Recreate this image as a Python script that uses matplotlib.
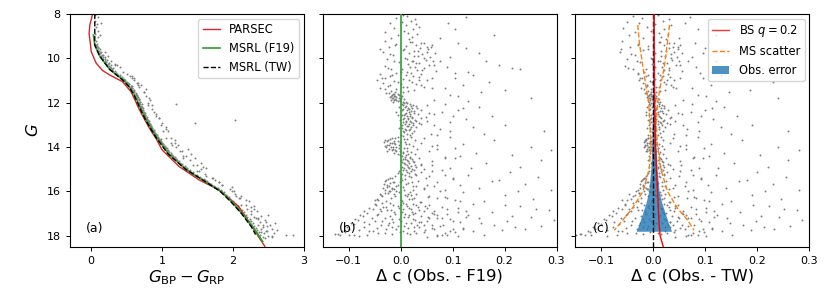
import numpy as np
import matplotlib
matplotlib.use('Agg')
import matplotlib.pyplot as plt
from matplotlib.patches import Patch

# ---------------- Panel (a): CMD ----------------
Ga1 = [8.05,8.15,8.30,8.45,8.60,8.75,8.90,9.05,9.20,9.35,8.40,8.95]
ca1 = [0.06,0.09,0.05,0.08,0.07,0.10,0.06,0.09,0.07,0.08,0.14,0.13]
Ga2 = [9.42,9.48,9.54,9.60,9.66,9.72,9.78,9.84,9.90,9.96,
       10.02,10.08,10.14,10.20,10.26,10.32,10.38,10.44,10.49,9.70,
       9.90,10.10,10.30,10.40,10.25]
ca2 = [0.07,0.10,0.09,0.13,0.10,0.14,0.12,0.16,0.14,0.19,
       0.17,0.22,0.20,0.25,0.24,0.28,0.27,0.31,0.30,0.20,
       0.24,0.28,0.36,0.40,0.33]
Ga3 = [10.52,10.58,10.64,10.70,10.76,10.82,10.88,10.94,11.00,11.06,
       11.12,11.18,11.24,11.30,11.36,11.42,11.48,11.54,11.60,11.66,
       11.72,11.78,11.84,11.90,11.96,10.70,10.80,10.90,11.00,11.10,
       11.20,11.30,11.50,11.70,11.90]
ca3 = [0.29,0.33,0.35,0.36,0.40,0.41,0.44,0.45,0.48,0.49,
       0.52,0.53,0.56,0.56,0.58,0.59,0.61,0.61,0.63,0.63,
       0.65,0.65,0.67,0.67,0.69,0.50,0.55,0.58,0.60,0.64,
       0.66,0.68,0.74,0.78,0.83]
Ga4 = [12.02,12.08,12.14,12.20,12.26,12.32,12.38,12.44,12.50,12.56,
       12.62,12.68,12.74,12.80,12.86,12.92,12.98,13.04,13.10,13.16,
       13.22,13.28,13.34,13.40,13.46,12.10,12.30,12.50,12.70,12.90,
       13.10,13.30,12.05,12.90,12.77]
ca4 = [0.67,0.69,0.68,0.71,0.70,0.72,0.72,0.74,0.74,0.76,
       0.76,0.78,0.78,0.80,0.80,0.82,0.83,0.84,0.85,0.86,
       0.87,0.88,0.89,0.91,0.91,0.80,0.86,0.92,0.95,1.00,
       1.05,1.08,1.19,1.47,2.03]
Ga5 = [13.52,13.58,13.64,13.70,13.76,13.82,13.88,13.94,14.00,14.06,
       14.12,14.18,14.24,14.30,14.36,14.42,14.48,14.54,14.60,14.66,
       14.72,14.78,14.84,14.90,14.96,13.60,13.80,14.00,14.20,14.40,
       14.60,14.80,13.70,14.10,14.50,14.90,13.90,14.30,14.70,14.95]
ca5 = [0.92,0.94,0.95,0.97,0.98,1.00,1.01,1.03,1.04,1.06,
       1.07,1.09,1.10,1.12,1.13,1.15,1.17,1.19,1.21,1.23,
       1.25,1.28,1.30,1.32,1.35,1.06,1.12,1.20,1.28,1.34,
       1.40,1.50,1.18,1.36,1.46,1.58,1.22,1.41,1.55,1.62]
Ga6 = [15.02,15.08,15.14,15.20,15.26,15.32,15.38,15.44,15.50,15.56,
       15.62,15.68,15.74,15.80,15.86,15.92,15.98,16.04,16.10,16.16,
       16.22,16.28,16.34,16.40,16.46,15.10,15.30,15.50,15.70,15.90,
       16.10,16.30,15.20,15.60,16.00,16.40,15.40,15.80,16.20,16.45]
ca6 = [1.36,1.38,1.41,1.44,1.47,1.50,1.53,1.56,1.60,1.63,
       1.66,1.68,1.72,1.74,1.78,1.80,1.83,1.85,1.88,1.89,
       1.91,1.93,1.95,1.97,1.99,1.50,1.62,1.74,1.85,1.96,
       2.03,2.10,1.60,1.80,2.02,2.18,1.72,1.98,2.12,2.22]
Ga7 = [16.52,16.58,16.64,16.70,16.76,16.82,16.88,16.94,17.00,17.06,
       17.12,17.18,17.24,17.30,17.36,17.42,17.48,17.54,17.60,17.66,
       17.72,17.78,17.84,17.90,17.96,18.02,18.08,18.14,16.60,16.80,
       17.00,17.20,17.40,17.60,17.80,18.00,16.70,16.90,17.10,17.30,
       17.50,17.70,17.90,18.10,16.65,17.05,17.45,17.85,18.05,17.95,
       17.98,17.25,17.15,17.55,17.75]
ca7 = [2.00,2.03,2.04,2.06,2.07,2.09,2.10,2.12,2.14,2.15,
       2.16,2.18,2.19,2.20,2.22,2.23,2.25,2.26,2.27,2.29,
       2.30,2.31,2.33,2.34,2.35,2.36,2.37,2.38,2.12,2.20,
       2.26,2.32,2.38,2.42,2.46,2.50,2.25,2.34,2.40,2.45,
       2.52,2.55,2.58,2.45,2.30,2.50,2.60,2.40,2.55,2.75,
       2.85,2.36,2.30,2.48,2.62]
Ga8 = [9.45,9.55,9.65,9.75,9.85,9.95,10.05,10.15,10.25,10.35,
       10.45,10.55,10.65,10.75,10.85,10.95,11.05,11.15,11.25,11.35,
       11.45,11.55,11.65,11.75,11.85,11.95,12.05,12.15,12.25,12.35,
       12.45,12.55,12.65,12.75,12.85,12.95,13.05,13.15,13.25,13.35,
       13.45,13.55,13.65,13.75,13.85,13.95,14.05,14.15,14.25,14.35,
       14.45,14.55,14.65,14.75,14.85,14.95,15.05,15.15,15.25,15.35,
       15.45,15.55,15.65,15.75,15.85,15.95,16.05,16.15,16.25,16.35,
       16.45,16.55,16.65,16.75,16.85,16.95,17.05,17.15,17.25,17.35,
       17.45,17.55,17.65,17.75,17.85,17.95,18.05,17.50,17.70,17.90]
ca8 = [0.08,0.09,0.11,0.12,0.15,0.16,0.19,0.21,0.24,0.25,
       0.28,0.31,0.35,0.38,0.43,0.46,0.50,0.53,0.57,0.58,
       0.61,0.63,0.65,0.66,0.68,0.69,0.71,0.70,0.73,0.73,
       0.76,0.76,0.79,0.79,0.82,0.83,0.85,0.86,0.89,0.90,
       0.93,0.94,0.98,0.99,1.02,1.04,1.07,1.09,1.12,1.14,
       1.18,1.20,1.24,1.27,1.32,1.34,1.39,1.43,1.49,1.53,
       1.59,1.63,1.69,1.73,1.79,1.83,1.88,1.90,1.94,1.96,
       2.00,2.03,2.07,2.09,2.13,2.15,2.18,2.20,2.24,2.25,
       2.29,2.30,2.33,2.34,2.37,2.38,2.42,2.35,2.40,2.44]
Ga9 = [10.3,10.6,10.9,11.2,11.5,11.8,12.1,12.4,12.7,13.0,
       13.3,13.6,13.9,14.2,14.5,14.8,15.1,15.4,15.7,16.0,
       16.3,16.6,16.9,17.2,17.5,17.8,10.8,11.4,12.0,12.6,
       13.2,13.8,14.4,15.0,15.6,16.2,16.8,17.4,18.0,11.1]
ca9 = [0.34,0.45,0.60,0.70,0.74,0.82,0.86,0.88,0.96,0.98,
       1.02,1.12,1.14,1.26,1.30,1.44,1.52,1.70,1.84,1.98,
       2.08,2.18,2.26,2.36,2.42,2.48,0.58,0.78,0.80,0.92,
       1.06,1.18,1.30,1.55,1.80,2.04,2.30,2.46,2.55,0.66]

parsec_G = [8.0,8.5,8.9,9.4,9.7,10.22,10.55,10.75,11.05,11.5,11.9,12.32,12.8,13.2,13.65,14.13,14.88,15.48,15.93,16.68,17.58,18.48]
parsec_c = [0.02,-0.02,-0.03,-0.01,0.0,0.07,0.16,0.26,0.44,0.56,0.62,0.68,0.76,0.83,0.92,1.0,1.24,1.52,1.80,2.08,2.27,2.45]
f19_G = [8.95,9.4,9.9,10.5,11.0,11.3,11.7,12.2,12.8,13.5,14.3,15.0,15.5,16.0,16.5,17.0,17.6,18.26]
f19_c = [0.03,0.05,0.12,0.26,0.46,0.54,0.62,0.69,0.78,0.91,1.09,1.33,1.58,1.83,1.99,2.13,2.28,2.42]
tw_G = [8.0,8.5,9.0,9.4,9.9,10.5,11.0,11.3,11.7,12.2,12.8,13.5,14.3,15.0,15.5,16.0,16.5,17.0,17.6,17.95]
tw_c = [0.05,0.05,0.05,0.05,0.12,0.26,0.45,0.54,0.61,0.68,0.77,0.90,1.08,1.33,1.58,1.82,1.98,2.12,2.26,2.32]

# ---------------- Panels (b),(c): colour residuals (same stars) ----------------
G1 = [8.05,8.10,8.18,8.22,8.30,8.35,8.41,8.47,8.52,8.58,8.63,8.70,8.75,8.80,8.86,8.92,8.97,9.02,9.08,9.15,
      8.12,8.40,8.66,8.95,9.10]
dcF1 = [0.004,0.012,-0.008,0.028,0.020,0.002,-0.020,0.030,0.010,0.036,-0.012,0.024,0.006,-0.030,0.014,0.032,-0.006,0.022,-0.018,0.016,
        0.125,0.092,0.105,0.180,0.075]
dcT1 = [0.008,-0.040,-0.022,0.030,0.018,-0.050,-0.028,0.004,0.034,-0.012,-0.058,0.020,-0.004,-0.036,0.010,0.028,-0.046,0.014,-0.020,0.024,
        0.070,0.060,0.085,0.120,0.050]

G2 = [9.22,9.26,9.30,9.34,9.38,9.42,9.46,9.50,9.54,9.58,
      9.62,9.66,9.70,9.74,9.78,9.82,9.86,9.90,9.94,9.98,
      10.02,10.06,10.10,10.14,10.18,10.22,10.26,10.30,10.34,10.38,
      10.42,10.46,10.50,10.54,10.58,10.62,10.66,10.69,9.48,10.12,
      9.30,9.55,9.75,9.95,10.10,10.30,10.45,10.50,10.60,10.65,
      9.25,9.33,9.41,9.49,9.57,9.65,9.73,9.81,9.89,9.97,
      10.05,10.13,10.21,10.29,10.37,10.45,10.53,10.61,10.68,9.60]
dcF2 = [-0.030,0.018,0.045,-0.008,0.030,0.060,0.010,-0.022,0.038,0.052,
        0.004,0.026,-0.034,0.066,0.016,0.042,-0.014,0.034,0.056,0.008,
        -0.026,0.048,0.022,0.062,-0.004,0.036,0.014,0.054,-0.030,0.028,
        0.044,0.002,-0.018,0.032,0.068,0.012,-0.008,0.040,0.050,0.024,
        0.110,0.125,0.150,0.095,0.165,0.190,0.215,0.230,0.130,0.105,
        0.022,0.040,-0.010,0.058,0.006,0.034,0.050,-0.020,0.026,0.044,
        0.012,-0.012,0.030,0.064,0.018,-0.024,0.042,0.000,0.020,-0.040]
dcT2 = [-0.060,0.010,0.040,-0.030,0.020,0.052,-0.010,-0.045,0.030,0.048,
        -0.020,0.014,-0.064,0.055,0.004,0.034,-0.036,0.022,0.046,-0.004,
        -0.050,0.036,0.008,0.050,-0.026,0.026,-0.002,0.044,-0.055,0.016,
        0.030,-0.014,-0.040,0.020,0.056,0.000,-0.030,0.028,0.038,0.012,
        0.080,0.100,0.095,0.075,0.120,0.150,0.170,0.210,0.110,0.090,
        0.012,0.030,-0.030,0.048,-0.010,0.024,0.040,-0.044,0.014,0.034,
        -0.002,-0.032,0.018,0.052,0.004,-0.048,0.030,-0.018,0.008,-0.062]

G3 = [10.72,10.76,10.80,10.84,10.88,10.92,10.96,11.00,11.04,11.08,
      11.12,11.16,11.20,11.24,11.28,11.32,11.36,11.40,11.44,11.48,
      11.52,11.56,11.60,11.63,11.66,11.69,11.72,11.75,11.78,11.81,
      11.84,11.87,11.90,11.94,11.98,
      10.75,10.90,11.05,11.20,11.35,11.50,11.65,11.80,11.92,11.45,
      10.74,10.82,10.90,10.98,11.06,11.14,11.22,11.30,11.38,11.46,
      11.54,11.62,11.65,11.68,11.71,11.74,11.77,11.80,11.83,11.86,
      11.89,11.92,11.95,11.97,11.58]
dcF3 = [-0.040,0.010,-0.020,0.035,-0.030,0.005,0.050,-0.045,-0.012,0.022,
        -0.034,0.000,0.040,-0.024,0.012,-0.040,0.060,-0.008,0.026,-0.018,
        0.004,-0.028,-0.012,-0.006,-0.016,0.002,-0.010,-0.020,-0.004,-0.014,
        0.006,-0.008,-0.018,-0.002,0.010,
        0.140,0.105,0.170,0.120,0.085,0.155,0.095,0.250,0.130,0.200,
        -0.016,0.024,-0.036,0.016,-0.006,0.030,-0.020,0.004,-0.030,0.014,
        -0.010,-0.014,-0.004,-0.012,-0.018,-0.008,0.000,-0.016,-0.010,-0.002,
        -0.012,-0.006,-0.014,0.004,-0.022]
dcT3 = [-0.030,0.012,-0.014,0.032,-0.022,0.004,0.040,-0.028,-0.006,0.020,
        -0.020,0.000,0.034,-0.012,0.010,-0.024,0.044,-0.004,0.022,-0.010,
        0.006,-0.016,-0.004,0.002,-0.008,0.006,-0.002,-0.012,0.004,-0.006,
        0.010,0.000,-0.010,0.004,0.012,
        0.130,0.095,0.230,0.110,0.075,0.145,0.085,0.240,0.120,0.185,
        -0.010,0.018,-0.026,0.012,-0.002,0.024,-0.012,0.006,-0.018,0.012,
        -0.004,-0.006,0.002,-0.004,-0.010,0.000,0.006,-0.008,-0.002,0.004,
        -0.006,0.000,-0.008,0.008,-0.014]

G4 = [12.02,12.05,12.08,12.11,12.14,12.17,12.20,12.23,12.26,12.29,
      12.32,12.35,12.38,12.41,12.44,12.47,12.50,12.53,12.56,12.59,
      12.62,12.65,12.68,12.71,12.74,12.77,12.80,12.83,12.86,12.89,
      12.92,12.95,12.98,13.02,13.06,13.10,13.14,13.18,13.22,13.28,13.34,13.42,
      12.05,12.20,12.35,12.50,12.62,12.75,12.88,13.00,13.10,13.20,13.30,13.40,12.45,
      12.03,12.09,12.15,12.21,12.27,12.33,12.39,12.45,12.51,12.57,
      12.63,12.69,12.75,12.81,12.87,12.93,12.99,13.05,13.11,13.17,
      13.23,13.29,13.35,13.41,13.47,12.24,12.54,12.84,13.14,13.44]
dcF4 = [0.006,0.018,0.002,0.024,0.010,0.030,-0.004,0.014,0.022,0.004,
        0.040,0.012,0.020,-0.008,0.016,0.026,0.008,0.034,0.002,0.018,
        0.012,0.048,0.006,0.022,0.014,-0.002,0.028,0.010,0.020,0.004,
        0.036,0.016,0.008,0.024,0.012,0.030,0.002,0.018,0.010,0.026,0.006,0.058,
        0.085,0.150,0.110,0.065,0.175,0.125,0.095,0.200,0.140,0.075,0.275,0.160,0.055,
        0.012,0.004,0.020,0.008,0.016,0.002,0.026,0.010,0.018,0.006,
        0.022,0.014,0.004,0.018,0.010,0.024,0.002,0.014,0.020,0.008,
        0.016,0.004,0.022,0.012,0.000,0.032,-0.006,0.030,-0.004,0.018]
dcT4 = [-0.004,0.010,-0.008,0.016,0.002,0.020,-0.012,0.006,0.014,-0.006,
        0.028,0.004,0.012,-0.014,0.008,0.018,0.000,0.024,-0.008,0.010,
        0.004,0.034,-0.004,0.014,0.006,-0.010,0.020,0.002,0.012,-0.004,
        0.026,0.008,0.000,0.016,0.004,0.022,-0.006,0.010,0.002,0.018,-0.002,0.040,
        0.075,0.135,0.100,0.055,0.160,0.115,0.085,0.190,0.130,0.065,0.260,0.150,0.048,
        0.002,-0.006,0.010,-0.002,0.006,-0.008,0.016,0.000,0.008,-0.004,
        0.012,0.004,-0.006,0.008,0.000,0.014,-0.008,0.004,0.010,-0.002,
        0.006,-0.006,0.012,0.002,-0.010,0.020,-0.014,0.018,-0.012,0.008]

G5 = [13.52,13.56,13.60,13.63,13.66,13.69,13.72,13.75,13.78,13.81,
      13.84,13.87,13.90,13.93,13.96,13.99,14.02,14.05,14.08,14.11,
      14.14,14.17,14.20,14.24,14.28,14.32,14.36,14.40,14.44,14.48,
      14.52,14.56,14.60,14.64,14.68,14.72,14.76,14.80,14.84,14.88,
      14.92,14.96,13.70,14.00,14.30,
      13.55,13.70,13.85,14.00,14.10,14.25,14.35,14.50,14.60,14.70,14.80,14.90,14.15,14.45,14.95,
      13.53,13.58,13.63,13.68,13.73,13.78,13.83,13.88,13.93,13.98,
      14.03,14.08,14.13,14.18,14.23,14.28,14.33,14.38,14.43,14.48,
      14.53,14.58,14.63,14.68,14.73,14.78,14.83,14.88,14.93,14.98,
      13.76,13.96,14.16,14.06,13.86]
dcF5 = [0.004,0.020,-0.010,0.012,-0.020,0.028,-0.006,-0.026,0.008,-0.016,
        -0.012,0.016,-0.022,-0.004,0.024,-0.018,-0.008,0.006,-0.014,0.032,
        -0.010,0.012,-0.002,0.020,0.004,0.028,0.010,0.002,0.018,0.036,
        0.008,0.022,0.000,0.014,0.026,0.006,0.040,0.012,0.020,0.002,
        0.030,0.016,-0.030,-0.028,-0.006,
        0.095,0.180,0.120,0.250,0.070,0.145,0.215,0.105,0.270,0.165,0.060,0.230,0.290,0.085,0.135,
        -0.006,-0.016,0.006,-0.024,-0.012,-0.002,-0.020,-0.010,-0.026,-0.014,
        -0.004,-0.022,-0.016,-0.008,0.004,-0.012,0.014,-0.002,0.008,0.018,
        0.004,0.012,0.024,0.002,0.016,0.008,0.028,0.014,0.006,0.022,
        -0.032,-0.030,-0.026,0.012,0.010]
dcT5 = [0.000,0.014,-0.010,0.006,-0.014,0.018,-0.004,-0.016,0.004,-0.008,
        -0.006,0.010,-0.012,0.002,0.016,-0.010,-0.004,0.008,-0.006,0.020,
        -0.002,0.006,-0.012,0.012,0.000,0.018,0.004,-0.008,0.010,0.024,
        0.002,0.014,-0.010,0.006,0.018,-0.004,0.028,0.006,0.012,-0.008,
        0.020,0.008,-0.016,-0.018,0.000,
        0.085,0.170,0.110,0.240,0.062,0.135,0.205,0.095,0.260,0.155,0.054,0.220,0.280,0.078,0.125,
        -0.004,-0.010,0.004,-0.014,-0.006,0.002,-0.012,-0.002,-0.016,-0.008,
        0.000,-0.012,-0.008,-0.002,0.004,-0.006,0.010,0.000,0.004,0.012,
        0.002,0.008,0.016,-0.002,0.010,0.004,0.018,0.008,0.002,0.014,
        -0.018,-0.016,-0.014,0.008,0.006]

G6 = [15.02,15.06,15.10,15.14,15.18,15.22,15.26,15.30,15.34,15.38,
      15.42,15.46,15.50,15.54,15.58,15.62,15.66,15.70,15.74,15.78,
      15.82,15.86,15.90,15.94,15.98,16.02,16.06,16.10,16.14,16.18,
      16.22,16.26,16.30,16.34,16.38,16.42,16.46,15.60,15.80,16.00,
      16.20,15.40,15.90,16.40,16.10,
      15.05,15.15,15.25,15.35,15.45,15.55,15.65,15.75,15.85,15.95,
      16.05,16.15,16.25,16.35,16.45,15.30,15.70,16.00,16.30,15.50,
      15.03,15.08,15.13,15.18,15.23,15.28,15.33,15.38,15.43,15.48,
      15.53,15.58,15.63,15.68,15.73,15.78,15.83,15.88,15.93,15.98,
      16.03,16.08,16.13,16.18,16.23,16.28,16.33,16.38,16.43,16.48,
      15.56,15.76,15.96,16.16,16.36]
dcF6 = [0.010,0.026,-0.004,0.040,0.016,0.002,0.030,-0.010,0.020,0.048,
        -0.020,0.008,-0.028,0.034,-0.014,0.014,-0.032,-0.006,0.024,-0.022,
        0.004,-0.016,0.044,-0.030,-0.008,0.018,-0.024,0.030,-0.012,0.008,
        -0.036,0.052,-0.018,0.022,-0.044,0.002,0.038,-0.002,-0.026,-0.020,
        0.012,0.000,-0.012,-0.050,-0.040,
        0.080,0.210,0.130,0.265,0.100,0.175,0.240,0.065,0.150,0.290,
        0.120,0.200,0.085,0.255,0.160,0.055,0.115,0.225,0.070,0.190,
        0.004,0.020,0.012,-0.006,0.028,0.008,0.016,-0.016,-0.024,0.002,
        -0.030,-0.012,-0.020,0.010,-0.026,-0.008,-0.034,-0.016,0.006,-0.022,
        -0.004,-0.030,0.014,-0.038,-0.010,0.026,-0.046,0.000,-0.028,0.040,
        0.022,0.030,0.024,0.020,0.016]
dcT6 = [0.004,0.018,-0.008,0.026,0.010,-0.002,0.020,-0.014,0.012,0.032,
        -0.018,0.004,-0.022,0.024,-0.012,0.008,-0.026,-0.006,0.016,-0.020,
        0.000,-0.014,0.030,-0.030,-0.008,0.012,-0.028,0.022,-0.016,0.004,
        -0.040,0.040,-0.024,0.016,-0.050,-0.004,0.030,-0.002,-0.018,-0.034,
        0.006,0.002,-0.010,-0.060,-0.046,
        0.072,0.200,0.120,0.255,0.092,0.165,0.230,0.060,0.140,0.280,
        0.110,0.190,0.078,0.245,0.150,0.050,0.105,0.215,0.064,0.180,
        0.000,0.014,0.006,-0.010,0.020,0.004,0.010,-0.016,-0.020,-0.002,
        -0.024,-0.010,-0.016,0.006,-0.020,-0.006,-0.026,-0.012,0.004,-0.018,
        -0.004,-0.028,0.010,-0.036,-0.010,0.020,-0.044,-0.002,-0.030,0.032,
        0.016,0.022,0.018,0.014,0.010]

G7 = [16.52,16.55,16.58,16.61,16.64,16.67,16.70,16.73,16.76,16.79,
      16.82,16.85,16.88,16.91,16.94,16.97,17.00,17.03,17.06,17.09,
      17.12,17.15,17.18,17.21,17.24,17.27,17.30,17.33,17.36,17.39,
      17.42,17.45,17.48,17.51,17.54,17.57,17.60,17.63,17.66,17.69,
      17.72,17.75,17.78,17.81,17.84,17.87,17.90,17.93,17.96,17.99,
      16.60,16.80,17.00,17.20,17.40,17.60,17.80,17.95,17.70,17.50,
      16.55,16.65,16.75,16.85,16.95,17.05,17.15,17.25,17.35,17.45,
      17.55,17.65,17.75,17.85,17.95,16.70,16.90,17.10,17.30,17.50,
      17.70,17.90,16.60,16.80,17.00,17.20,17.40,17.60,17.80,18.00,
      16.51,16.54,16.57,16.60,16.63,16.66,16.69,16.72,16.75,16.78,
      16.81,16.84,16.87,16.90,16.93,16.96,16.99,17.02,17.05,17.08,
      17.11,17.14,17.17,17.20,17.23,17.26,17.29,17.32,17.35,17.38,
      17.41,17.44,17.47,17.50,17.53,17.56,17.59,17.62,17.65,17.68,
      17.71,17.74,17.77,17.80,17.83,17.86,17.89,17.92,17.95,17.98,
      18.01,17.91,17.97,17.85,17.93]
dcF7 = [-0.020,0.010,-0.050,0.030,-0.006,0.046,-0.034,0.016,-0.060,0.004,
        0.036,-0.026,-0.070,0.022,-0.012,0.060,-0.044,0.008,-0.078,0.040,
        -0.020,0.014,-0.056,0.070,-0.004,-0.088,0.028,-0.036,0.050,-0.014,
        -0.096,0.020,-0.060,0.082,-0.024,0.006,-0.104,0.036,-0.046,0.064,
        -0.008,-0.080,0.026,-0.112,0.044,-0.030,0.012,-0.120,0.090,-0.064,
        0.000,-0.040,0.024,0.054,-0.070,-0.016,-0.054,-0.090,0.100,0.032,
        0.140,0.230,0.110,0.285,0.175,0.130,0.250,0.095,0.205,0.155,
        0.270,0.120,0.195,0.105,0.160,0.080,0.125,0.215,0.295,0.180,
        0.240,0.085,0.200,0.260,0.090,0.150,0.115,0.220,0.140,0.070,
        0.004,-0.036,0.024,-0.014,-0.048,0.012,-0.028,0.034,-0.004,-0.054,
        0.020,-0.018,0.044,-0.038,0.002,-0.064,0.028,-0.010,-0.046,0.016,
        -0.072,0.006,0.052,-0.030,-0.016,0.024,-0.082,0.000,-0.050,0.036,
        -0.022,0.010,-0.090,0.060,-0.038,-0.006,0.026,-0.070,0.014,-0.100,
        -0.028,0.046,-0.060,0.004,-0.108,0.030,-0.044,-0.016,0.070,-0.116,
        -0.080,-0.126,-0.100,-0.002,0.018]
dcT7 = [-0.024,0.008,-0.054,0.026,-0.010,0.042,-0.040,0.014,-0.068,0.000,
        0.032,-0.030,-0.078,0.018,-0.016,0.056,-0.050,0.004,-0.086,0.036,
        -0.024,0.010,-0.062,0.066,-0.008,-0.096,0.024,-0.042,0.046,-0.018,
        -0.106,0.016,-0.066,0.078,-0.028,0.002,-0.116,0.032,-0.052,0.060,
        -0.012,-0.090,0.022,-0.126,0.040,-0.034,0.008,-0.140,0.086,-0.070,
        -0.004,-0.046,0.020,0.050,-0.076,-0.020,-0.060,-0.148,0.096,0.028,
        0.132,0.222,0.102,0.277,0.167,0.122,0.242,0.087,0.197,0.147,
        0.262,0.112,0.187,0.097,0.152,0.072,0.117,0.207,0.287,0.172,
        0.232,0.077,0.192,0.252,0.082,0.142,0.107,0.212,0.132,0.062,
        0.000,-0.040,0.020,-0.018,-0.054,0.008,-0.032,0.030,-0.008,-0.060,
        0.016,-0.022,0.040,-0.044,-0.002,-0.072,0.024,-0.014,-0.052,0.012,
        -0.080,0.002,0.048,-0.036,-0.020,0.020,-0.092,-0.004,-0.056,0.032,
        -0.026,0.006,-0.100,0.056,-0.044,-0.010,0.022,-0.078,0.010,-0.112,
        -0.032,0.042,-0.068,0.000,-0.122,0.026,-0.050,-0.020,0.066,-0.132,
        -0.090,-0.142,-0.120,-0.006,0.014]

G8 = [10.1,10.4,10.9,11.3,11.7,12.1,12.4,12.7,13.0,13.3,
      13.6,13.9,14.2,14.5,14.8,15.1,15.4,15.7,16.0,16.3,
      16.6,16.9,17.2,17.5,17.8,18.0,12.25,12.85,13.45,14.05,
      14.65,15.25,15.85,16.45,17.05,17.65,16.75,17.35,17.95,17.15,
      11.0,11.9,12.6,13.8,14.4,15.0,15.6,16.2,16.8,17.4,
      17.7,17.0,16.4,18.05,17.55,16.95,15.95,14.95,13.95,12.95]
dcF8 = [0.075,0.090,0.060,0.045,0.110,0.050,0.080,0.040,0.065,0.095,
        0.045,0.070,0.055,0.085,0.040,0.060,0.100,0.050,0.075,0.090,
        0.055,0.065,0.080,0.045,0.095,0.110,0.120,0.050,0.070,0.105,
        0.060,0.085,0.045,0.115,0.070,0.060,0.050,0.100,0.080,0.125,
        0.035,0.065,0.100,0.040,0.115,0.045,0.070,0.055,0.090,0.040,
        0.120,0.065,0.105,0.050,0.075,0.110,0.085,0.095,0.060,0.040]
dcT8 = [0.067,0.082,0.052,0.037,0.102,0.042,0.072,0.032,0.057,0.087,
        0.037,0.062,0.047,0.077,0.032,0.052,0.092,0.042,0.067,0.082,
        0.047,0.057,0.072,0.037,0.087,0.102,0.112,0.042,0.062,0.097,
        0.052,0.077,0.037,0.107,0.062,0.052,0.042,0.092,0.072,0.117,
        0.027,0.057,0.092,0.032,0.107,0.037,0.062,0.047,0.082,0.032,
        0.112,0.057,0.097,0.042,0.067,0.102,0.077,0.087,0.052,0.032]

# panel (c) model curves
err_G = [8.0,10.0,12.0,13.0,14.0,15.0,15.5,16.0,16.5,17.0,17.5,17.8]
err_w = [0.001,0.0015,0.002,0.003,0.004,0.006,0.008,0.010,0.015,0.022,0.029,0.034]
ms_G = [8.5,9.3,10.4,11.3,12.0,13.0,13.9,15.0,16.0,16.75,17.3,17.75]
ms_left = [-0.030,-0.027,-0.020,-0.014,-0.009,-0.0065,-0.0046,-0.008,-0.020,-0.040,-0.059,-0.075]
ms_right = [0.031,0.027,0.021,0.013,0.008,0.005,0.008,0.0145,0.027,0.046,0.066,0.078]
bs_G = [8.0,12.0,13.0,14.0,14.5,16.0,17.5,18.0,18.5]
bs_dc = [0.001,0.002,0.003,0.004,0.005,0.008,0.011,0.013,0.019]

# ---------------- figure ----------------
plt.rcParams['font.family'] = 'DejaVu Sans'
plt.rcParams['mathtext.fontset'] = 'dejavusans'
fig, axes = plt.subplots(1, 3, figsize=(8.3, 2.91), dpi=100, sharey=True)
fig.subplots_adjust(left=0.0843, right=0.975, top=0.952, bottom=0.152, wspace=0.081)

TICK = 8
LAB = 11.8
LEG = 8.3
pt_kw = dict(s=2.0, c='gray', linewidths=0, zorder=1)

Ga = Ga1 + Ga2 + Ga3 + Ga4 + Ga5 + Ga6 + Ga7 + Ga8 + Ga9
ca = ca1 + ca2 + ca3 + ca4 + ca5 + ca6 + ca7 + ca8 + ca9
Gbc = G1 + G2 + G3 + G4 + G5 + G6 + G7 + G8
dcF = dcF1 + dcF2 + dcF3 + dcF4 + dcF5 + dcF6 + dcF7 + dcF8
dcT = dcT1 + dcT2 + dcT3 + dcT4 + dcT5 + dcT6 + dcT7 + dcT8

ax = axes[0]
ax.scatter(ca, Ga, **pt_kw)
ax.plot(parsec_c, parsec_G, color='tab:red', lw=1.0, label='PARSEC', zorder=2)
ax.plot(f19_c, f19_G, color='tab:green', lw=1.2, label='MSRL (F19)', zorder=3)
ax.plot(tw_c, tw_G, color='k', ls='--', lw=1.0, label='MSRL (TW)', zorder=4)
ax.set_xlim(-0.3, 3.0)
ax.set_ylim(18.5, 8)
ax.set_xticks([0, 1, 2, 3])
ax.set_yticks([8, 10, 12, 14, 16, 18])
ax.set_xlabel(r'$G_{\rm BP} - G_{\rm RP}$', fontsize=LAB, labelpad=2)
ax.set_ylabel(r'$G$', fontsize=LAB)
ax.legend(loc='upper right', fontsize=LEG, handlelength=1.5, borderaxespad=0.4)
ax.text(0.07, 0.08, '(a)', transform=ax.transAxes, fontsize=9, va='center')

ax = axes[1]
ax.scatter(dcF, Gbc, **pt_kw)
ax.axvline(0, color='tab:green', lw=1.2, zorder=3)
ax.set_xlim(-0.15, 0.3)
ax.set_xticks([-0.1, 0.0, 0.1, 0.2, 0.3])
ax.set_xlabel('Δ c (Obs. - F19)', fontsize=LAB, labelpad=2)
ax.text(0.068, 0.08, '(b)', transform=ax.transAxes, fontsize=9, va='center')

ax = axes[2]
ax.scatter(dcT, Gbc, **pt_kw)
ax.fill_betweenx(err_G, np.array(err_w) * -1 + 0.001, np.array(err_w) + 0.001,
                 color='tab:blue', alpha=0.8, lw=0, zorder=2)
ax.axvline(0, color='k', ls='--', lw=1.0, zorder=3)
ax.plot(ms_left, ms_G, color='tab:orange', ls='--', lw=1.0, zorder=4)
ax.plot(ms_right, ms_G, color='tab:orange', ls='--', lw=1.0, zorder=4)
ax.plot(bs_dc, bs_G, color='red', lw=1.0, zorder=5)
ax.set_xlim(-0.15, 0.3)
ax.set_xticks([-0.1, 0.0, 0.1, 0.2, 0.3])
ax.set_xlabel('Δ c (Obs. - TW)', fontsize=LAB, labelpad=2)
ax.text(0.073, 0.08, '(c)', transform=ax.transAxes, fontsize=9, va='center')
handles = [plt.Line2D([], [], color='red', lw=1.0, alpha=0.8),
           plt.Line2D([], [], color='tab:orange', ls='--', lw=1.0),
           Patch(facecolor='tab:blue', alpha=0.8)]
ax.legend(handles, [r'BS $q=0.2$', 'MS scatter', 'Obs. error'], loc='upper right',
          fontsize=LEG, handlelength=1.5, borderaxespad=0.4)

for ax in axes:
    ax.tick_params(labelsize=TICK, length=3.1, width=0.7, direction='out')
    for s in ax.spines.values():
        s.set_linewidth(0.8)
    ax.tick_params(axis='y', labelleft=(ax is axes[0]))

fig.savefig('out.png', dpi=100)
